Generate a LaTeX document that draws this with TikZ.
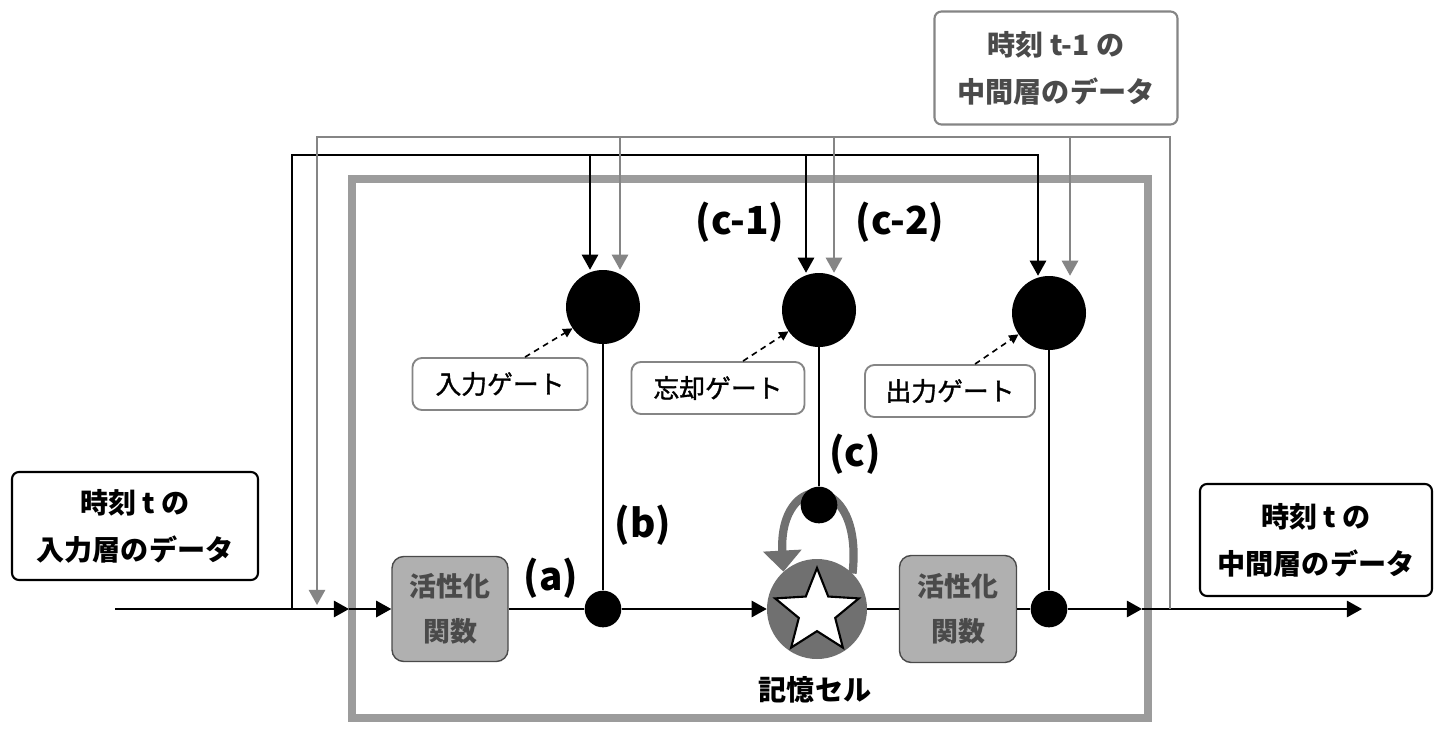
\documentclass[tikz,border=0pt]{standalone}
\usepackage{fontspec}
\setmainfont{Noto Sans CJK JP}
\newfontfamily\jpmid{Noto Sans CJK JP}[FakeBold=1.3]
\usetikzlibrary{arrows.meta,shapes.geometric,calc}
\definecolor{lg}{HTML}{858585}
\definecolor{fr}{HTML}{9C9C9C}
\definecolor{actf}{HTML}{B0B0B0}
\definecolor{cellf}{HTML}{707070}
\definecolor{txg}{HTML}{4A4A4A}
\begin{document}
\begin{tikzpicture}[x=0.03cm,y=-0.03cm,
  blk/.style={line width=1.8pt},
  gry/.style={line width=1.8pt, draw=lg},
  tip/.style={-{Triangle[length=13pt,width=14pt]}},
  gate/.style={circle, fill=black, minimum size=2.22cm, inner sep=0pt},
  smalldot/.style={circle, fill=black, minimum size=1.1cm, inner sep=0pt},
  databox/.style={draw, rounded corners=6pt, line width=1.8pt, align=center,
    font=\bfseries\fontsize{24}{40}\selectfont},
  gatelab/.style={draw=lg, rounded corners=8pt, line width=1.6pt, align=center,
    minimum height=1.56cm, font=\jpmid\fontsize{22}{26}\selectfont},
  actbox/.style={draw=txg, fill=actf, rounded corners=10pt, line width=1.2pt, align=center,
    text=txg, font=\bfseries\fontsize{23}{38}\selectfont},
  lab/.style={font=\bfseries\fontsize{33}{36}\selectfont},
  dasharrow/.style={dashed, dash pattern=on 5pt off 4pt, line width=1.4pt, -{Triangle[length=8pt,width=8pt]}}
]
\path[use as bounding box] (0,0) rectangle (1437,731);
\fill[white] (0,0) rectangle (1437,731);

% frame
\draw[fr, line width=7pt] (352,179) rectangle (1148,718);

% data boxes
\node[databox, minimum width=7.38cm, minimum height=3.24cm] (inbox) at (135,526) {時刻 t の\\入力層のデータ};
\node[databox, minimum width=6.96cm, minimum height=3.36cm] (outbox) at (1316,540) {時刻 t の\\中間層のデータ};
\node[databox, draw=lg, text=txg, minimum width=7.29cm, minimum height=3.39cm] (prevbox) at (1056,68) {時刻 t-1 の\\中間層のデータ};

% gates
\node[gate] (g1) at (603,307) {};
\node[gate] (g2) at (819,310) {};
\node[gate] (g3) at (1049,313) {};

% gate labels
\node[gatelab, minimum width=5.25cm] (l1) at (500,384) {入力ゲート};
\node[gatelab, minimum width=5.19cm] (l2) at (718,388) {忘却ゲート};
\node[gatelab, minimum width=5.10cm] (l3) at (950,391) {出力ゲート};
\draw[dasharrow] ($(l1.north)+(25,0)$) -- (g1.215);
\draw[dasharrow] ($(l2.north)+(25,0)$) -- (g2.215);
\draw[dasharrow] ($(l3.north)+(25,0)$) -- (g3.215);

% activation boxes, cell
\node[actbox, minimum width=3.48cm, minimum height=3.15cm] (act1) at (450,609) {活性化\\関数};
\node[actbox, minimum width=3.51cm, minimum height=3.21cm] (act2) at (958,609) {活性化\\関数};
\node[circle, fill=cellf, minimum size=3cm, inner sep=0pt] (cell) at (817,609) {};
\node[star, star points=5, star point ratio=2.3, draw, fill=white, line width=1.8pt,
  minimum size=2.64cm, inner sep=0pt] (st) at (817,612) {};
\node[font=\bfseries\fontsize{24}{28}\selectfont] (celllab) at (815,690) {記憶セル};

% self loop
\draw[line width=7pt, draw=cellf, -{Triangle[length=18pt,width=32pt]}]
  (cell.45) .. controls (864,470) and (778,470) .. (cell.132);

% dots
\node[smalldot] (dotA) at (603,609) {};
\node[smalldot] (dotC) at (819,505) {};
\node[smalldot] (dotO) at (1049,609) {};

% labels
\node[lab] (la) at (551,578) {(a)};
\node[lab] (lb) at (643,525) {(b)};
\node[lab] (lc) at (855,454) {(c)};
\node[lab] (lc1) at (740,222) {(c-1)};
\node[lab] (lc2) at (900,222) {(c-2)};

% main line
\coordinate (inL) at (115,609);
\coordinate (fin) at (349,609);
\coordinate (fout) at (1142,609);
\coordinate (outR) at (1362,609);
\draw[blk, tip] (inL) -- (fin);
\draw[blk, tip] (fin) -- (act1.west);
\draw[blk] (act1.east) -- (dotA);
\draw[blk, tip] (dotA) -- (cell.west);
\draw[blk] (cell.east) -- (act2.west);
\draw[blk] (act2.east) -- (dotO);
\draw[blk, tip] (dotO) -- (fout);
\draw[blk, tip] (fout) -- (outR);

% gate outputs
\draw[blk] (g1) -- (dotA);
\draw[blk] (g2) -- (dotC);
\draw[blk] (g3) -- (dotO);

% black recurrence (input at t)
\coordinate (jL) at (292,609);
\coordinate (bT) at (292,155);
\coordinate (b1) at (590,155);
\coordinate (b2) at (806,155);
\coordinate (b3) at (1038,155);
\draw[blk, tip] (jL) -- (bT) -- (b3) -- (b3 |- g3.north);
\draw[blk, tip] (b1) -- (b1 |- g1.north);
\draw[blk, tip] (b2) -- (b2 |- g2.north);

% gray recurrence (hidden at t-1)
\coordinate (gR) at (1170,609);
\coordinate (gRt) at (1170,137);
\coordinate (gLt) at (317,137);
\coordinate (gLb) at (317,605);
\coordinate (c1) at (620,137);
\coordinate (c2) at (834,137);
\coordinate (c3) at (1070,137);
\draw[gry, tip] (gR) -- (gRt) -- (gLt) -- (gLb);
\draw[gry, tip] (c1) -- (c1 |- g1.north);
\draw[gry, tip] (c2) -- (c2 |- g2.north);
\draw[gry, tip] (c3) -- (c3 |- g3.north);
\end{tikzpicture}
\end{document}
